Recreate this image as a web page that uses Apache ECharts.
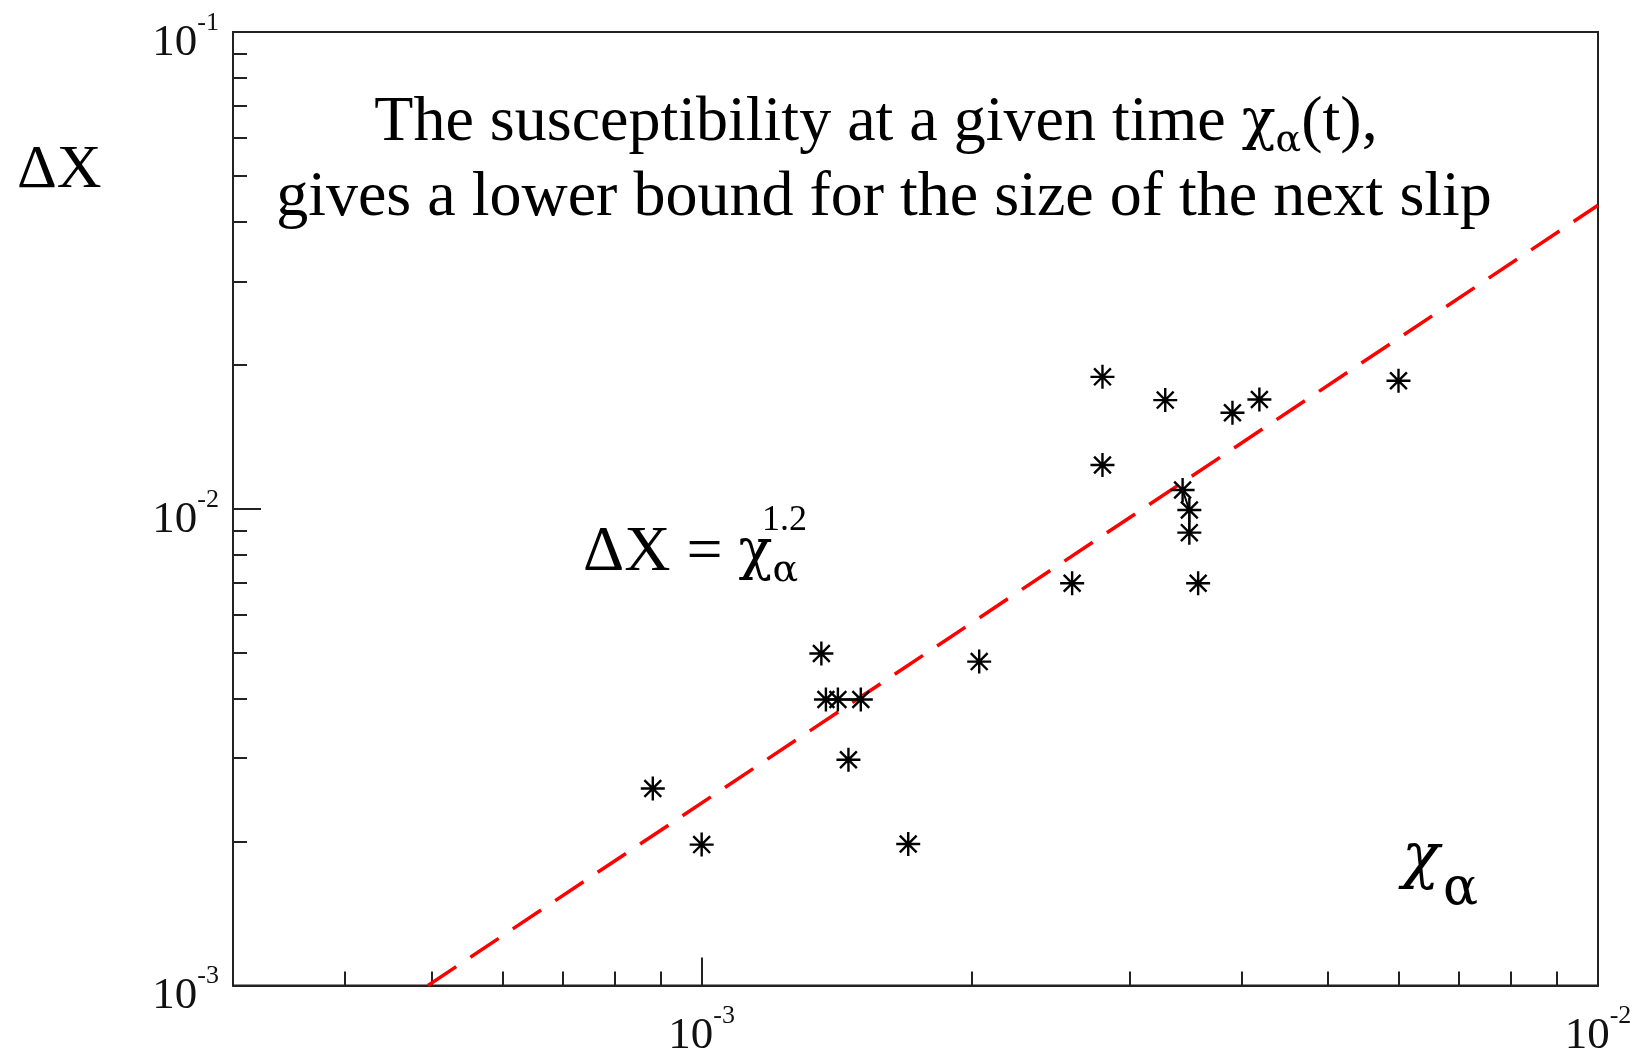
<!DOCTYPE html>
<html>
<head>
<meta charset="utf-8">
<title>susceptibility vs slip size</title>
<script src="https://cdn.jsdelivr.net/npm/echarts@6/dist/echarts.min.js"></script>
<style>
  html, body { margin: 0; padding: 0; background: #fff; }
  #chart { width: 1645px; height: 1059px; }
</style>
</head>
<body>
<div id="chart"></div>
<script>
// measured points (chi_alpha, delta X)
const chiVals = [8.82e-4, 1.0e-3, 1.36e-3, 1.376e-3, 1.419e-3, 1.505e-3, 1.458e-3, 1.70e-3,
  2.04e-3, 2.59e-3, 2.80e-3, 2.80e-3, 3.29e-3, 3.44e-3, 3.50e-3, 3.50e-3, 3.58e-3,
  3.91e-3, 4.19e-3, 5.99e-3];
const dxVals = [2.59e-3, 1.975e-3, 4.97e-3, 3.98e-3, 3.98e-3, 3.98e-3, 2.976e-3, 1.98e-3,
  4.78e-3, 6.98e-3, 1.891e-2, 1.235e-2, 1.69e-2, 1.095e-2, 0.994e-2, 8.91e-3, 6.98e-3,
  1.59e-2, 1.695e-2, 1.855e-2];
// short joins drawn between some of the stars
const linkA = [4, 5];
const linkB = [13, 14, 15];
// dashed fit  dX = chi^1.2
const fitChi = [4.95e-4, 1e-2];
const fitDx = [1e-3, 0.0433];
// ticks
const xMajor = [1e-3, 1e-2];
const xMinor = [4e-4, 5e-4, 6e-4, 7e-4, 8e-4, 9e-4, 2e-3, 3e-3, 4e-3, 5e-3, 6e-3, 7e-3, 8e-3, 9e-3];
const yMajor = [1e-3, 1e-2, 1e-1];
const yMinor = [2e-3, 3e-3, 4e-3, 5e-3, 6e-3, 7e-3, 8e-3, 9e-3, 2e-2, 3e-2, 4e-2, 5e-2, 6e-2, 7e-2, 8e-2, 9e-2];

const FONT = '"Liberation Serif", "DejaVu Serif", serif';
const GREEK = '"DejaVu Serif", serif';
const AX = '#222';

const chart = echarts.init(document.getElementById('chart'));

function powLabel(v) {
  const e = Math.round(Math.log10(v));
  return '{b|10}{s|' + e + '}';
}
const powRich = {
  b: { fontFamily: FONT, fontSize: 45, lineHeight: 66, verticalAlign: 'middle', color: '#111' },
  s: { fontFamily: FONT, fontSize: 26, lineHeight: 26, verticalAlign: 'top', color: '#111' }
};

const pts = chiVals.map((c, i) => [c, dxVals[i]]);
const star = 'path://M0,-10L0,10M-10,0L10,0M-7,-7L7,7M-7,7L7,-7';

const subRich = {
  n: { fontFamily: FONT, fontSize: 64, lineHeight: 74, verticalAlign: 'middle', color: '#000' },
  g: { fontFamily: GREEK, fontSize: 56, lineHeight: 74, verticalAlign: 'middle', color: '#000' },
  a: { fontFamily: GREEK, fontSize: 38, lineHeight: 28, verticalAlign: 'bottom', color: '#000' }
};

const option = {
  animation: false,
  backgroundColor: '#fff',
  grid: {
    left: 233, top: 32, right: 47, bottom: 72,
    show: true, borderColor: AX, borderWidth: 2, backgroundColor: 'transparent'
  },
  xAxis: [
    {
      type: 'log', logBase: 10, min: 3e-4, max: 1e-2, position: 'bottom',
      axisLine: { show: true, lineStyle: { color: AX, width: 2 } },
      axisTick: { show: true, inside: true, length: 28, lineStyle: { color: AX, width: 2 }, customValues: xMajor },
      axisLabel: { show: true, margin: 18, formatter: powLabel, rich: powRich, customValues: xMajor },
      splitLine: { show: false }, minorTick: { show: false }
    },
    {
      type: 'log', logBase: 10, min: 3e-4, max: 1e-2, position: 'bottom',
      axisLine: { show: false },
      axisTick: { show: true, inside: true, length: 14, lineStyle: { color: AX, width: 2 }, customValues: xMinor },
      axisLabel: { show: false },
      splitLine: { show: false }
    }
  ],
  yAxis: [
    {
      type: 'log', logBase: 10, min: 1e-3, max: 1e-1, position: 'left',
      axisLine: { show: true, lineStyle: { color: AX, width: 2 } },
      axisTick: { show: true, inside: true, length: 28, lineStyle: { color: AX, width: 2 }, customValues: yMajor },
      axisLabel: { show: true, margin: 14, padding: [22, 0, 0, 0], formatter: powLabel, rich: powRich, customValues: yMajor },
      splitLine: { show: false }
    },
    {
      type: 'log', logBase: 10, min: 1e-3, max: 1e-1, position: 'left',
      axisLine: { show: false },
      axisTick: { show: true, inside: true, length: 14, lineStyle: { color: AX, width: 2 }, customValues: yMinor },
      axisLabel: { show: false },
      splitLine: { show: false }
    }
  ],
  series: [
    {
      name: 'fit',
      type: 'line',
      data: fitChi.map((c, i) => [c, fitDx[i]]),
      symbol: 'none',
      lineStyle: { color: '#ff0000', width: 3.5, type: [34, 17] },
      z: 2
    },
    {
      name: 'linkA',
      type: 'line',
      data: linkA.map(i => pts[i]),
      symbol: 'none',
      lineStyle: { color: '#000', width: 2 },
      z: 3
    },
    {
      name: 'linkB',
      type: 'line',
      data: linkB.map(i => pts[i]),
      symbol: 'none',
      lineStyle: { color: '#000', width: 2 },
      z: 3
    },
    {
      name: 'data',
      type: 'scatter',
      data: pts,
      symbol: star,
      symbolSize: 24,
      itemStyle: { color: '#000', borderColor: '#000', borderWidth: 2.4, opacity: 1 },
      z: 4
    }
  ],
  graphic: [
    {
      type: 'text', x: 17, y: 171,
      style: { text: 'ΔX', fontFamily: FONT, fontSize: 62, fill: '#000', align: 'left', verticalAlign: 'middle' }
    },
    {
      type: 'text', x: 876, y: 123,
      style: {
        text: '{n|The susceptibility at a given time }{g|χ}{a|α}{n|(t),}',
        rich: subRich, align: 'center', verticalAlign: 'middle'
      }
    },
    {
      type: 'text', x: 884, y: 198,
      style: {
        text: 'gives a lower bound for the size of the next slip',
        fontFamily: FONT, fontSize: 64, fill: '#000', align: 'center', verticalAlign: 'middle'
      }
    },
    {
      type: 'text', x: 583, y: 553,
      style: { text: '{n|ΔX = }{g|χ}{a|α}', rich: subRich, align: 'left', verticalAlign: 'middle' }
    },
    {
      type: 'text', x: 762, y: 521,
      style: { text: '1.2', fontFamily: FONT, fontSize: 36, fill: '#000', align: 'left', verticalAlign: 'middle' }
    },
    {
      type: 'text', x: 1402, y: 860,
      style: { text: 'χ', fontFamily: GREEK, fontStyle: 'italic', fontSize: 62, fill: '#000', align: 'left', verticalAlign: 'middle' }
    },
    {
      type: 'text', x: 1443, y: 890,
      style: { text: 'α', fontFamily: GREEK, fontSize: 52, fill: '#000', align: 'left', verticalAlign: 'middle' }
    }
  ]
};

chart.setOption(option);
</script>
</body>
</html>
